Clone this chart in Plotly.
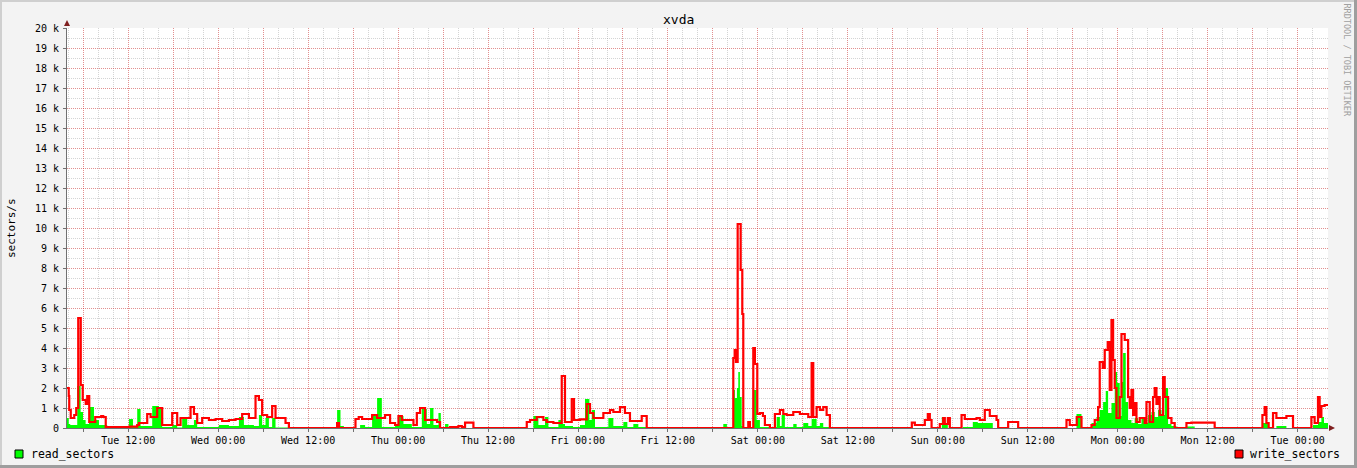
import pandas as pd
import plotly.graph_objects as go

# ---------------- data ----------------
start = pd.Timestamp("2012-03-06 03:50")   # Tue
span_minutes = 10093                          # ~1 week shown

# write_sectors (sectors/s), step series: minutes since start -> value
write_minutes = [
    0, 14, 18, 30, 58, 74, 90, 110, 126, 150,
    162, 178, 226, 274, 290, 310, 498, 562, 576, 642,
    669, 722, 762, 842, 882, 909, 989, 1016, 1042, 1082,
    1136, 1189, 1242, 1296, 1349, 1402, 1456, 1509, 1536, 1562,
    1602, 1642, 1669, 1749, 1776, 2162, 2176, 2309, 2335, 2362,
    2442, 2482, 2546, 2586, 2626, 2653, 2680, 2773, 2800, 2826,
    2866, 2962, 2986, 3066, 3133, 3160, 3186, 3253, 3680, 3706,
    3760, 3813, 3840, 3893, 3960, 3986, 4040, 4058, 4106, 4160,
    4186, 4213, 4293, 4346, 4373, 4426, 4466, 4506, 4600, 4640,
    5333, 5344, 5354, 5368, 5392, 5405, 5413, 5453, 5466, 5493,
    5506, 5525, 5546, 5570, 5586, 5626, 5666, 5706, 5733, 5760,
    5813, 5866, 5933, 5960, 5973, 6000, 6026, 6053, 6080, 6106,
    6762, 6786, 6866, 6890, 6906, 6920, 6986, 7013, 7026, 7050,
    7066, 7160, 7186, 7280, 7306, 7346, 7386, 7440, 7453, 7533,
    7613, 8000, 8026, 8082, 8120, 8200, 8226, 8253, 8266, 8290,
    8306, 8330, 8346, 8360, 8373, 8386, 8400, 8426, 8440, 8466,
    8493, 8506, 8520, 8533, 8546, 8560, 8586, 8626, 8640, 8666,
    8693, 8706, 8720, 8733, 8746, 8773, 8786, 8813, 8840, 8866,
    8960, 9000, 9186, 9568, 9586, 9600, 9618, 9653, 9680, 9760,
    9813, 9960, 9986, 10013, 10026, 10040, 10066,
]
write_values = [
    2000, 1600, 900, 500, 650, 1000, 5500, 2150, 1400, 1200,
    1600, 300, 550, 600, 550, 50, 70, 150, 250, 700,
    550, 1000, 150, 750, 150, 500, 1050, 700, 250, 500,
    400, 450, 350, 400, 450, 700, 500, 1600, 1400, 650,
    550, 1100, 500, 250, 0, 250, 0, 450, 550, 450,
    650, 500, 650, 250, 150, 600, 400, 150, 750, 1000,
    400, 300, 0, 50, 100, 50, 270, 0, 300, 400,
    550, 400, 300, 250, 2600, 300, 1450, 400, 430, 1200,
    750, 500, 750, 900, 800, 1050, 750, 350, 600, 0,
    3500, 3900, 3300, 10200, 7900, 5700, 0, 300, 0, 4000,
    3200, 700, 750, 600, 150, 0, 700, 900, 700, 650,
    800, 700, 550, 3250, 550, 1050, 900, 1050, 650, 0,
    270, 150, 400, 700, 400, 0, 200, 500, 200, 500,
    0, 650, 450, 500, 400, 900, 600, 400, 0, 300,
    0, 400, 150, 550, 0, 150, 400, 1050, 3300, 3000,
    3900, 4300, 1900, 5400, 3400, 2000, 500, 1550, 4700, 4400,
    1550, 1000, 1900, 650, 1250, 300, 500, 250, 1300, 300,
    1550, 2000, 1200, 1550, 650, 2550, 1550, 500, 250, 0,
    250, 270, 0, 650, 1050, 250, 0, 750, 500, 600,
    0, 550, 250, 1550, 550, 1100, 1150,
]

# read_sectors (sectors/s)
read_minutes = [
    0, 14, 26, 82, 109, 128, 149, 176, 216, 256,
    322, 496, 528, 562, 589, 682, 736, 762, 842, 882,
    922, 962, 1016, 1042, 1216, 1296, 1376, 1416, 1496, 1536,
    1562, 1589, 1616, 1642, 1669, 1776, 2162, 2189, 2216, 2346,
    2386, 2442, 2482, 2520, 2626, 2653, 2693, 2760, 2840, 2880,
    2906, 2933, 2973, 2992, 3026, 3053, 3733, 3773, 3826, 3853,
    3933, 3960, 3986, 4050, 4106, 4146, 4181, 4200, 4226, 4333,
    4373, 4453, 4485, 4533, 4573, 4640, 5253, 5282, 5333, 5346,
    5362, 5373, 5386, 5400, 5413, 5493, 5520, 5546, 5680, 5706,
    5720, 5746, 5813, 5840, 5893, 5933, 5960, 6000, 6026, 6053,
    6106, 7002, 7026, 7050, 7170, 7250, 7290, 7410, 8080, 8120,
    8200, 8240, 8266, 8293, 8314, 8333, 8360, 8386, 8405, 8426,
    8440, 8453, 8474, 8493, 8520, 8546, 8573, 8600, 8626, 8653,
    8680, 8706, 8733, 8760, 8786, 8813, 8840, 8880, 8960, 9026,
    9573, 9613, 9680, 9760, 9973, 10013, 10040, 10061,
]
read_values = [
    500, 200, 150, 2100, 800, 400, 200, 1050, 400, 150,
    0, 450, 50, 950, 100, 1100, 1050, 50, 150, 20,
    550, 150, 400, 50, 150, 100, 550, 150, 100, 650,
    150, 500, 50, 500, 20, 0, 900, 100, 0, 150,
    50, 600, 1500, 50, 150, 600, 200, 50, 950, 200,
    1000, 150, 750, 50, 200, 0, 600, 150, 550, 50,
    400, 200, 100, 50, 150, 1450, 400, 900, 50, 500,
    100, 300, 50, 200, 50, 0, 200, 0, 1900, 1500,
    2000, 2800, 1550, 100, 0, 1900, 400, 50, 550, 100,
    650, 50, 200, 50, 250, 100, 450, 100, 250, 50,
    0, 550, 200, 0, 50, 300, 250, 0, 700, 0,
    250, 550, 900, 1300, 1850, 750, 1250, 2800, 2250, 600,
    2300, 3750, 1300, 400, 250, 500, 200, 500, 250, 650,
    800, 550, 900, 650, 2000, 200, 100, 0, 70, 0,
    250, 0, 100, 0, 150, 300, 550, 250,
]

y_tick_values = list(range(0, 20001, 1000))
y_tick_labels = ["0"] + [f"{v // 1000} k" for v in y_tick_values[1:]]

title_text = "xvda"
y_title = "sectors/s"
read_label = "read_sectors"
write_label = "write_sectors"
watermark = "RRDTOOL / TOBI OETIKER"

# ---------------- figure ----------------
end = start + pd.Timedelta(minutes=span_minutes)


def to_times(mins):
    return [start + pd.Timedelta(minutes=m) for m in mins]


read_x = to_times(read_minutes) + [end]
read_y = read_values + [read_values[-1]]
write_x = to_times(write_minutes) + [end]
write_y = write_values + [write_values[-1]]

FONT = "DejaVu Sans Mono"
W, H = 1357, 468
L, R, T, B = 67, 29, 28, 40
PW, PH = W - L - R, H - T - B


def px(xpix):
    return (xpix - L) / PW


def py(ypix):
    return (H - B - ypix) / PH


fig = go.Figure()
fig.add_trace(go.Scatter(
    x=read_x, y=read_y, mode="lines", line=dict(shape="hv", width=0, color="#00FF00"),
    fill="tozeroy", fillcolor="#00FF00", name=read_label, showlegend=False,
    hoverinfo="x+y"))
fig.add_trace(go.Scatter(
    x=write_x, y=write_y, mode="lines", line=dict(shape="hv", width=2.2, color="#FF0000"),
    name=write_label, showlegend=False, hoverinfo="x+y"))

grid_times = pd.date_range(start.ceil("6h"), end, freq="6h")
x_tick_text = [t.strftime("%a %H:%M") if t.hour in (0, 12) else "" for t in grid_times]

MAJ = "rgba(255,0,0,0.32)"
MIN = "rgba(120,120,120,0.32)"
AX = "#707070"

fig.update_xaxes(
    range=[start, end], type="date",
    tickmode="array", tickvals=list(grid_times), ticktext=x_tick_text,
    showgrid=True, gridcolor=MAJ, griddash="1px,1px", gridwidth=1,
    ticks="outside", ticklen=3, tickcolor=AX,
    showline=True, linecolor=AX, linewidth=1, zeroline=False,
    tickfont=dict(family=FONT, size=10, color="#000000"),
    minor=dict(dtick=2 * 3600 * 1000, tick0="2012-03-06 00:00", showgrid=True,
               gridcolor=MIN, griddash="1px,1px", gridwidth=1),
    automargin=False, fixedrange=True,
)
fig.update_yaxes(
    range=[0, 20000], tickmode="array", tickvals=y_tick_values, ticktext=y_tick_labels,
    showgrid=True, gridcolor=MAJ, griddash="1px,1px", gridwidth=1,
    ticks="outside", ticklen=3, tickcolor=AX,
    showline=True, linecolor=AX, linewidth=1, zeroline=False,
    tickfont=dict(family=FONT, size=10, color="#000000"), ticklabelstandoff=2,
    minor=dict(dtick=500, tick0=0, showgrid=True, gridcolor=MIN, griddash="1px,1px", gridwidth=1),
    automargin=False, fixedrange=True,
)

shapes = []
# 3D frame
shapes.append(dict(type="rect", xref="paper", yref="paper", x0=px(0), x1=px(W), y0=py(0), y1=py(2),
                   fillcolor="#CFCFCF", line=dict(width=0), layer="above"))
shapes.append(dict(type="rect", xref="paper", yref="paper", x0=px(0), x1=px(2), y0=py(0), y1=py(H),
                   fillcolor="#CFCFCF", line=dict(width=0), layer="above"))
shapes.append(dict(type="rect", xref="paper", yref="paper", x0=px(W - 3), x1=px(W), y0=py(0), y1=py(H),
                   fillcolor="#9E9E9E", line=dict(width=0), layer="above"))
shapes.append(dict(type="rect", xref="paper", yref="paper", x0=px(0), x1=px(W), y0=py(H - 3), y1=py(H),
                   fillcolor="#9E9E9E", line=dict(width=0), layer="above"))
# axis arrows
ARROW = "#7F1F1F"
shapes.append(dict(type="path", xref="paper", yref="paper",
                   path=f"M {px(64)} {py(26)} L {px(70)} {py(26)} L {px(67)} {py(20)} Z",
                   fillcolor=ARROW, line=dict(width=0), layer="above"))
shapes.append(dict(type="path", xref="paper", yref="paper",
                   path=f"M {px(1329)} {py(425)} L {px(1329)} {py(431)} L {px(1335)} {py(428)} Z",
                   fillcolor=ARROW, line=dict(width=0), layer="above"))
# legend boxes
shapes.append(dict(type="rect", xref="paper", yref="paper", x0=px(15), x1=px(23), y0=py(458), y1=py(450),
                   fillcolor="#00FF00", line=dict(width=1, color="#000000"), layer="above"))
shapes.append(dict(type="rect", xref="paper", yref="paper", x0=px(1235), x1=px(1243), y0=py(458), y1=py(450),
                   fillcolor="#FF0000", line=dict(width=1, color="#000000"), layer="above"))

annotations = [
    dict(text=title_text, xref="paper", yref="paper", x=px(678.5), y=py(19), showarrow=False,
         xanchor="center", yanchor="middle", font=dict(family=FONT, size=13, color="#000000")),
    dict(text=y_title, xref="paper", yref="paper", x=px(11), y=py(228), showarrow=False,
         textangle=-90, xanchor="center", yanchor="middle", font=dict(family=FONT, size=11, color="#000000")),
    dict(text=watermark, xref="paper", yref="paper", x=px(1346.5), y=py(60), showarrow=False,
         textangle=90, xanchor="center", yanchor="middle", font=dict(family=FONT, size=8.5, color="#A0A0A0")),
    dict(text=read_label, xref="paper", yref="paper", x=px(29), y=py(454), showarrow=False,
         xanchor="left", yanchor="middle", font=dict(family=FONT, size=11.5, color="#000000")),
    dict(text=write_label, xref="paper", yref="paper", x=px(1248), y=py(454), showarrow=False,
         xanchor="left", yanchor="middle", font=dict(family=FONT, size=11.5, color="#000000")),
]

fig.update_layout(
    width=W, height=H, autosize=False,
    margin=dict(l=L, r=R, t=T, b=B, pad=0),
    paper_bgcolor="#F3F3F3", plot_bgcolor="#FFFFFF",
    shapes=shapes, annotations=annotations, showlegend=False,
    hovermode="closest",
)

fig.write_html(
    "out.html",
    config={"displayModeBar": False},
    post_script="document.body.style.margin='0';document.body.style.padding='0';",
)
